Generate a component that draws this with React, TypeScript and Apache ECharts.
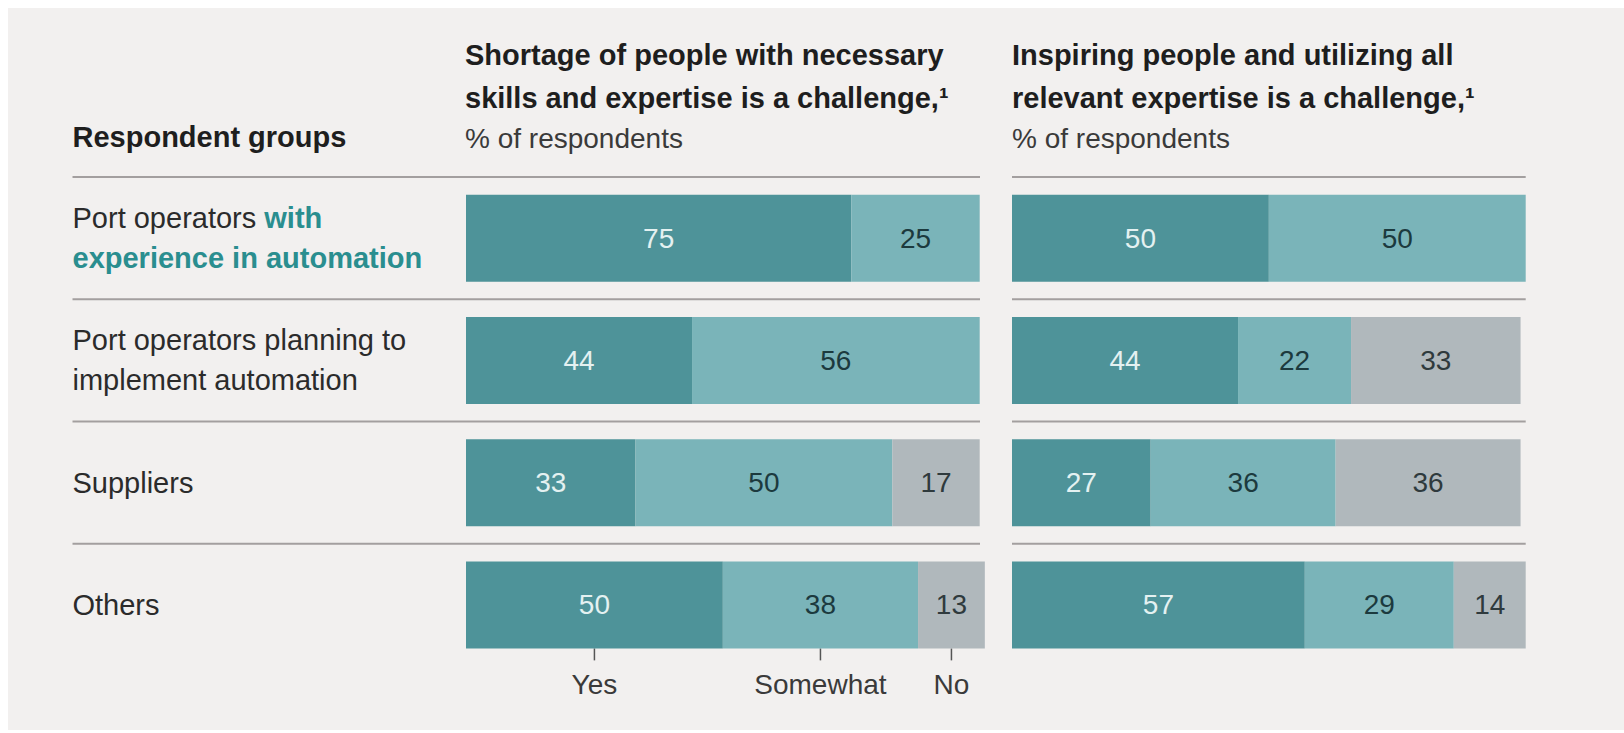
import React, { useEffect, useRef } from "react";
import * as echarts from "echarts";

const groups = [
  "Port operators with experience in automation",
  "Port operators planning to implement automation",
  "Suppliers",
  "Others",
];
const answerNames = ["Yes", "Somewhat", "No"];

const shortageYes = [75, 44, 33, 50];
const shortageSomewhat = [25, 56, 50, 38];
const shortageNo: (number | null)[] = [null, null, 17, 13];

const inspiringYes = [50, 44, 27, 57];
const inspiringSomewhat = [50, 22, 36, 29];
const inspiringNo: (number | null)[] = [null, 33, 36, 14];

const titleLeft = ["Shortage of people with necessary", "skills and expertise is a challenge,\u00b9"];
const titleRight = ["Inspiring people and utilizing all", "relevant expertise is a challenge,\u00b9"];
const subtitle = "% of respondents";
const groupHeader = "Respondent groups";

const FONT = '"Liberation Sans", Arial, Helvetica, sans-serif';
const C_DARK = "#4e9399";
const C_MID = "#7ab4b9";
const C_GRAY = "#b0b8bc";
const C_BG = "#f2f0ef";
const C_SEP = "#a39f9f";
const C_TEXT = "#2b2b2b";
const C_TEAL_TEXT = "#2a8e8f";

const BAR_W = 87;
const GRID_TOP = 169;
const GRID_H = 489;

export default function App() {
  const ref = useRef<HTMLDivElement>(null);

  useEffect(() => {
    if (!ref.current) return;
    const chart = echarts.init(ref.current, undefined, { renderer: "svg" });

    const titleRich = {
      b: { fontFamily: FONT, fontSize: 29, fontWeight: "bold", color: "#1e1e1e", lineHeight: 43 },
      r: { fontFamily: FONT, fontSize: 28, fontWeight: "normal", color: "#3a3a3a", lineHeight: 38 },
    };

    const labelFormatter = (v: string) => {
      if (v === groups[0]) return "{n|Port operators }{t|with}\n{t|experience in automation}";
      if (v === groups[1]) return "{n|Port operators planning to}\n{n|implement automation}";
      return "{n|" + v + "}";
    };

    const separatorSeries = (gridIdx: number) => ({
      type: "custom",
      xAxisIndex: gridIdx,
      yAxisIndex: gridIdx,
      silent: true,
      z: 1,
      encode: { x: 0, y: 1 },
      data: groups.map((_, i) => [0, i]),
      renderItem: (params: any, api: any) => {
        const c = api.coord([0, api.value(1)]);
        const band = api.size([0, 1])[1];
        const y = c[1] - band / 2;
        const cs = params.coordSys;
        return {
          type: "line",
          shape: { x1: cs.x, y1: y, x2: cs.x + cs.width, y2: y },
          style: { stroke: C_SEP, lineWidth: 2 },
        };
      },
    });

    const barSeries = (gridIdx: number, name: string, data: (number | null)[], color: string, textColor: string) => ({
      type: "bar",
      name,
      stack: "s" + gridIdx,
      xAxisIndex: gridIdx,
      yAxisIndex: gridIdx,
      data,
      barWidth: BAR_W,
      clip: false,
      itemStyle: { color },
      label: {
        show: true,
        position: "inside",
        color: textColor,
        fontFamily: FONT,
        fontSize: 28,
        formatter: "{c}",
      },
      z: 2,
    });

    // legend ticks at the midpoints of the "Others" row of the first panel
    const lastIdx = groups.length - 1;
    const othersVals = [shortageYes[lastIdx], shortageSomewhat[lastIdx], shortageNo[lastIdx] ?? 0];
    const legendData: number[][] = [];
    let acc = 0;
    othersVals.forEach((v, i) => {
      legendData.push([acc + v / 2, lastIdx, i]);
      acc += v;
    });

    const legendSeries = {
      type: "custom",
      xAxisIndex: 1,
      yAxisIndex: 1,
      silent: true,
      clip: false,
      encode: { x: 0, y: 1 },
      data: legendData,
      renderItem: (params: any, api: any) => {
        const c = api.coord([api.value(0), api.value(1)]);
        const bottom = c[1] + BAR_W / 2;
        return {
          type: "group",
          children: [
            {
              type: "line",
              shape: { x1: c[0], y1: bottom, x2: c[0], y2: bottom + 12 },
              style: { stroke: "#555", lineWidth: 1.5 },
            },
            {
              type: "text",
              style: {
                text: answerNames[api.value(2)],
                x: c[0],
                y: bottom + 36,
                align: "center",
                verticalAlign: "middle",
                fontFamily: FONT,
                fontSize: 28,
                fill: "#3a3a3a",
              },
            },
          ],
        };
      },
    };

    const option: any = {
      animation: false,
      backgroundColor: C_BG,
      title: [
        {
          left: 64.5,
          top: 110,
          padding: 0,
          text: "{b|" + groupHeader + "}",
          textStyle: { rich: { b: { ...titleRich.b, lineHeight: 38 } } },
        },
        {
          left: 457,
          top: 25.5,
          padding: 0,
          text: "{b|" + titleLeft[0] + "}\n{b|" + titleLeft[1] + "}\n{r|" + subtitle + "}",
          textStyle: { fontWeight: "normal", rich: titleRich },
        },
        {
          left: 1004,
          top: 25.5,
          padding: 0,
          text: "{b|" + titleRight[0] + "}\n{b|" + titleRight[1] + "}\n{r|" + subtitle + "}",
          textStyle: { fontWeight: "normal", rich: titleRich },
        },
      ],
      grid: [
        { left: 64.5, top: GRID_TOP, width: 907.5, height: GRID_H },
        { left: 458, top: GRID_TOP, width: 513.7, height: GRID_H },
        { left: 1004, top: GRID_TOP, width: 513.7, height: GRID_H },
      ],
      xAxis: [
        { gridIndex: 0, type: "value", min: 0, max: 1, show: false },
        { gridIndex: 1, type: "value", min: 0, max: 100, show: false },
        { gridIndex: 2, type: "value", min: 0, max: 100, show: false },
      ],
      yAxis: [
        {
          gridIndex: 0,
          type: "category",
          data: groups,
          inverse: true,
          axisLine: { show: false },
          axisTick: { show: false },
          splitLine: { show: false },
          axisLabel: {
            show: true,
            interval: 0,
            align: "left",
            margin: 0,
            formatter: labelFormatter,
            rich: {
              n: { fontFamily: FONT, fontSize: 29, color: C_TEXT, lineHeight: 40 },
              t: { fontFamily: FONT, fontSize: 29, fontWeight: "bold", color: C_TEAL_TEXT, lineHeight: 40 },
            },
          },
        },
        { gridIndex: 1, type: "category", data: groups, inverse: true, show: false },
        { gridIndex: 2, type: "category", data: groups, inverse: true, show: false },
      ],
      series: [
        separatorSeries(0),
        separatorSeries(2),
        barSeries(1, answerNames[0], shortageYes, C_DARK, "#e4f1f1"),
        barSeries(1, answerNames[1], shortageSomewhat, C_MID, "#1c3a3e"),
        barSeries(1, answerNames[2], shortageNo, C_GRAY, "#2f3a3d"),
        barSeries(2, answerNames[0], inspiringYes, C_DARK, "#e4f1f1"),
        barSeries(2, answerNames[1], inspiringSomewhat, C_MID, "#1c3a3e"),
        barSeries(2, answerNames[2], inspiringNo, C_GRAY, "#2f3a3d"),
        legendSeries,
      ],
    };

    chart.setOption(option);
    return () => chart.dispose();
  }, []);

  return (
    <div
      ref={ref}
      style={{ position: "absolute", left: 8, top: 8, width: 1616, height: 722 }}
    />
  );
}
